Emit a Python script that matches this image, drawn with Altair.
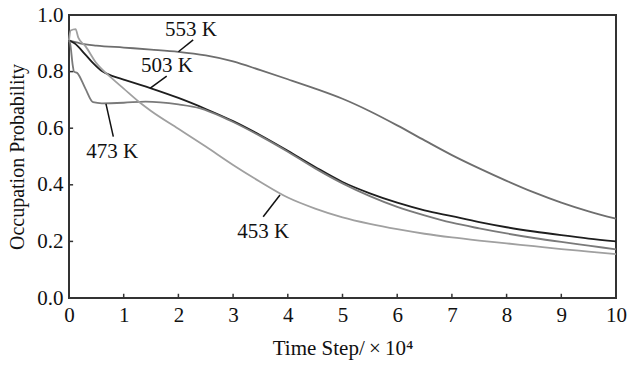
import altair as alt
import pandas as pd

# ---- data ----
x553 = [0, 0.2, 0.5, 1, 1.5, 2, 2.5, 3, 3.5, 4, 4.5, 5, 5.5, 6, 6.5, 7, 7.5, 8, 8.5, 9, 9.5, 10]
y553 = [0.91, 0.90, 0.892, 0.885, 0.878, 0.870, 0.857, 0.836, 0.805, 0.773, 0.740, 0.704, 0.66, 0.61, 0.557, 0.505, 0.458, 0.414, 0.373, 0.337, 0.306, 0.28]

x503 = [0, 0.1, 0.3, 0.45, 0.6, 0.8, 1, 1.5, 2, 2.5, 3, 3.5, 4, 4.5, 5, 5.5, 6, 6.5, 7, 7.5, 8, 8.5, 9, 9.5, 10]
y503 = [0.91, 0.90, 0.86, 0.828, 0.802, 0.784, 0.772, 0.741, 0.707, 0.668, 0.625, 0.575, 0.52, 0.463, 0.41, 0.37, 0.337, 0.31, 0.289, 0.268, 0.25, 0.235, 0.222, 0.21, 0.2]

x473 = [0, 0.02, 0.07, 0.09, 0.15, 0.3, 0.44, 0.6, 1, 1.4, 2, 2.4, 2.8, 3, 3.5, 4, 4.5, 5, 5.5, 6, 6.5, 7, 7.5, 8, 8.5, 9, 9.5, 10]
y473 = [0.91, 0.90, 0.82, 0.80, 0.795, 0.74, 0.692, 0.688, 0.69, 0.694, 0.684, 0.67, 0.64, 0.622, 0.572, 0.517, 0.458, 0.405, 0.36, 0.322, 0.292, 0.266, 0.246, 0.228, 0.212, 0.198, 0.185, 0.172]

x453 = [0, 0.03, 0.12, 0.17, 0.3, 0.5, 0.75, 1, 1.3, 1.5, 2, 2.5, 3, 3.5, 4, 4.5, 5, 5.5, 6, 6.5, 7, 7.5, 8, 8.5, 9, 9.5, 10]
y453 = [0.91, 0.945, 0.95, 0.92, 0.89, 0.83, 0.782, 0.74, 0.69, 0.661, 0.598, 0.535, 0.47, 0.41, 0.355, 0.316, 0.285, 0.262, 0.243, 0.227, 0.214, 0.203, 0.193, 0.183, 0.173, 0.164, 0.155]

series = ["553 K", "503 K", "473 K", "453 K"]
colors = ["#6e6e6e", "#1e1e1e", "#7a7a7a", "#a0a0a0"]

label_text = ["553 K", "503 K", "473 K", "453 K"]
label_x = [2.23, 1.79, 0.79, 3.55]
label_y = [0.926, 0.80, 0.494, 0.212]
ptr_x1 = [2.0, 1.48, 0.676, 3.857]
ptr_y1 = [0.870, 0.741, 0.686, 0.364]
ptr_x2 = [2.27, 1.786, 0.81, 3.55]
ptr_y2 = [0.912, 0.784, 0.570, 0.287]

xtick_vals = [1, 2, 3, 4, 5, 6, 7, 8, 9]
ytick_vals = [0.2, 0.4, 0.6, 0.8]

# ---- tables ----
rows = []
for name, xs, ys in zip(series, [x553, x503, x473, x453], [y553, y503, y473, y453]):
    for a, b in zip(xs, ys):
        rows.append({"series": name, "t": a, "p": b})
lines_df = pd.DataFrame(rows)
labels_df = pd.DataFrame({"label": label_text, "t": label_x, "p": label_y})
ptr_df = pd.DataFrame({"t": ptr_x1, "p": ptr_y1, "t2": ptr_x2, "p2": ptr_y2})
xt_df = pd.DataFrame({"t": xtick_vals, "p": [0] * 9, "p2": [0.015] * 9})
yt_df = pd.DataFrame({"p": ytick_vals, "t": [0] * 4, "t2": [0.075] * 4})

FONT = "Liberation Serif"

xscale = alt.Scale(domain=[0, 10], nice=False, zero=False)
yscale = alt.Scale(domain=[0, 1], nice=False)

xaxis = alt.Axis(values=list(range(0, 11)), format="d", tickSize=0, domain=False, grid=False,
                 labelFont=FONT, labelFontSize=21, labelColor="#111", labelPadding=6,
                 title="Time Step/\u2009×\u200910⁴", titleFont=FONT, titleFontSize=21, titleFontWeight="normal",
                 titleColor="#111", titleY=50, titleBaseline="middle", labelFlush=False)
yaxis = alt.Axis(values=[0, 0.2, 0.4, 0.6, 0.8, 1.0], format=".1f", tickSize=0, domain=False, grid=False,
                 labelFont=FONT, labelFontSize=21, labelColor="#111", labelPadding=6,
                 title="Occupation Probability", titleFont=FONT, titleFontSize=20, titleFontWeight="normal",
                 titleColor="#111", titleX=-52, titleY=141.5, titleBaseline="middle", titleAlign="center",
                 titleAngle=-90, labelFlush=False)

lines = alt.Chart(lines_df).mark_line(interpolate="monotone", strokeWidth=1.8).encode(
    x=alt.X("t:Q", scale=xscale, axis=xaxis),
    y=alt.Y("p:Q", scale=yscale, axis=yaxis),
    color=alt.Color("series:N", scale=alt.Scale(domain=series, range=colors), legend=None),
    detail="series:N",
)

labels = alt.Chart(labels_df).mark_text(font=FONT, fontSize=21, color="#111", align="center",
                                         baseline="alphabetic").encode(
    x="t:Q", y="p:Q", text="label:N")

pointers = alt.Chart(ptr_df).mark_rule(color="#111", strokeWidth=1.5).encode(
    x="t:Q", y="p:Q", x2="t2:Q", y2="p2:Q")

xticks = alt.Chart(xt_df).mark_rule(color="#333", strokeWidth=1.5).encode(
    x="t:Q", y="p:Q", y2="p2:Q")
yticks = alt.Chart(yt_df).mark_rule(color="#333", strokeWidth=1.5).encode(
    y="p:Q", x="t:Q", x2="t2:Q")

chart = alt.layer(lines, pointers, labels, xticks, yticks).properties(
    width=547, height=283,
    autosize=alt.AutoSizeParams(type="none"),
    padding={"left": 69, "top": 15, "right": 11, "bottom": 67},
    background="white",
).configure_view(stroke="#333", strokeWidth=2)

chart.save("out.html", embed_options={"renderer": "svg", "actions": False})
